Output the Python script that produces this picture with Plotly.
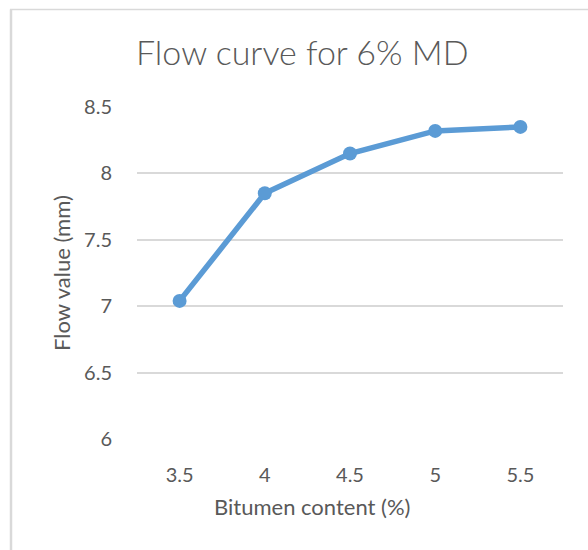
import plotly.graph_objects as go

bitumen = ["3.5", "4", "4.5", "5", "5.5"]
flow = [7.04, 7.85, 8.15, 8.32, 8.35]
y_ticks = [6, 6.5, 7, 7.5, 8, 8.5]
y_tick_labels = ["6", "6.5", "7", "7.5", "8", "8.5"]

TXT = "#595959"
FONT = "Lato"

L, R, T, B = 137, 25, 107, 111
W, H = 588, 550
pw, ph = W - L - R, H - T - B

def px_x(px):
    return (px - L) / pw

def px_y(py):
    return (H - B - py) / ph

fig = go.Figure()
fig.add_trace(go.Scatter(
    x=bitumen, y=flow, mode="lines+markers",
    line=dict(color="#5b9bd5", width=5.5),
    marker=dict(color="#5b9bd5", size=14),
    showlegend=False, hoverinfo="skip",
))

fig.update_layout(
    width=W, height=H,
    margin=dict(l=L, r=R, t=T, b=B),
    paper_bgcolor="white", plot_bgcolor="white",
    font=dict(family=FONT, color=TXT),
    xaxis=dict(
        type="category", range=[-0.5, len(bitumen) - 0.5],
        showgrid=False, zeroline=False, showline=False,
        ticks="outside", ticklen=18, tickcolor="rgba(0,0,0,0)",
        tickfont=dict(size=20, color=TXT, family=FONT),
    ),
    yaxis=dict(
        range=[6, 8.5], tickvals=y_ticks, ticktext=y_tick_labels,
        showgrid=True, gridcolor="#d9d9d9", gridwidth=1.5, zeroline=False,
        showline=False, ticks="outside", ticklen=20, tickcolor="rgba(0,0,0,0)",
        tickfont=dict(size=20, color=TXT, family=FONT),
    ),
    annotations=[
        dict(text="Flow curve for 6% MD", x=px_x(302), y=px_y(52), xref="paper", yref="paper",
             showarrow=False, xanchor="center", yanchor="middle",
             font=dict(size=34, color=TXT, family=FONT, weight=300)),
        dict(text="Bitumen content (%)", x=px_x(312), y=px_y(507), xref="paper", yref="paper",
             showarrow=False, xanchor="center", yanchor="middle",
             font=dict(size=22, color=TXT, family=FONT)),
        dict(text="Flow value (mm)", x=px_x(61), y=px_y(273), xref="paper", yref="paper",
             showarrow=False, xanchor="center", yanchor="middle", textangle=-90,
             font=dict(size=22, color=TXT, family=FONT)),
    ],
    shapes=[
        dict(type="line", xref="paper", yref="paper", x0=px_x(10), x1=px_x(600),
             y0=px_y(9.5), y1=px_y(9.5), line=dict(color="#d9d9d9", width=1.5)),
        dict(type="line", xref="paper", yref="paper", x0=px_x(11), x1=px_x(11),
             y0=px_y(9.5), y1=px_y(560), line=dict(color="#d9d9d9", width=2.5)),
    ],
)

fig.write_html("out.html")
